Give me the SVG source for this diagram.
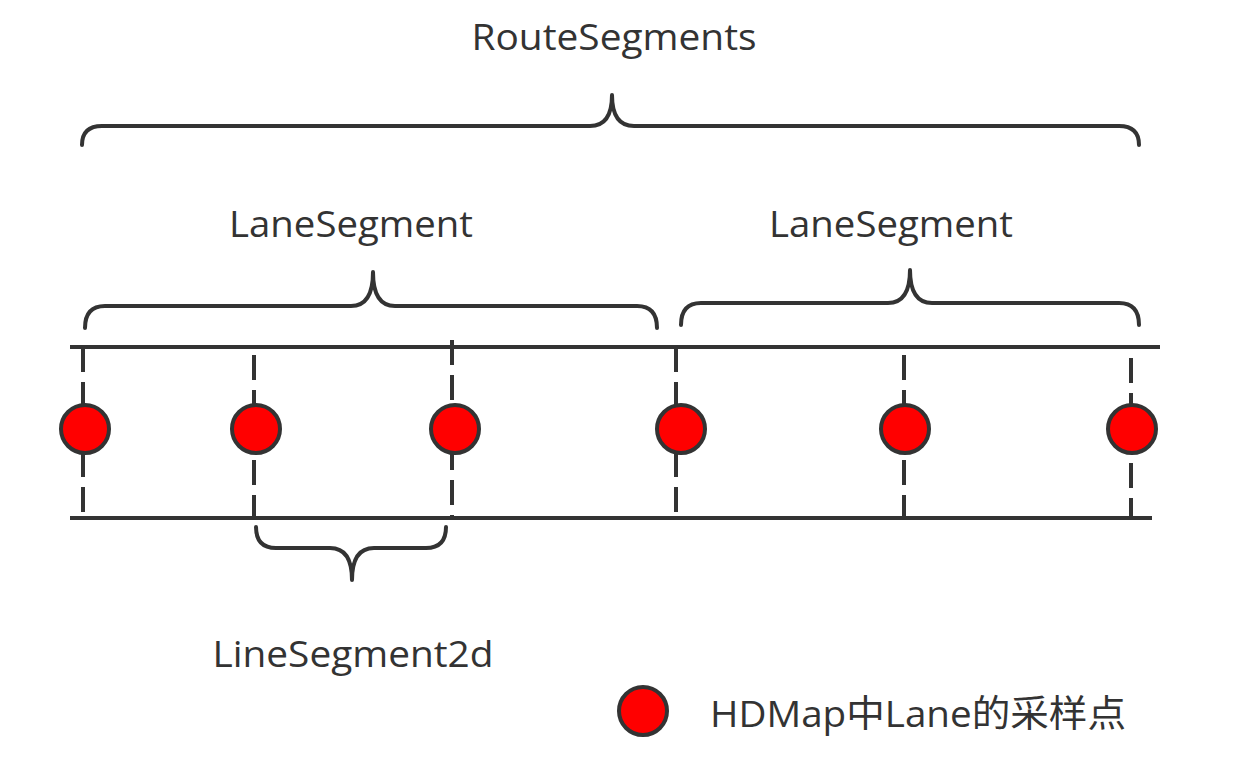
<svg xmlns="http://www.w3.org/2000/svg" width="1244" height="765" viewBox="0 0 1244 765">
  <style>
    .txt { font-family: "Open Sans", "Noto Sans CJK SC", sans-serif; font-size: 37px; fill: #333333; }
    .brace { fill: none; stroke: #333333; stroke-width: 4; stroke-linecap: round; stroke-linejoin: round; }
    .rail { stroke: #333333; stroke-width: 4; fill: none; }
    .dash { stroke: #333333; stroke-width: 4; stroke-dasharray: 25 10; fill: none; }
    .pt { fill: #ff0000; stroke: #333333; stroke-width: 4; }
  </style>
  <rect width="1244" height="765" fill="#ffffff"/>

  <g id="route-segments">
    <path class="brace" d="M82,145 Q82,126 102,126 L590,126 Q612,126 612,95 Q612,126 634,126 L1119,126 Q1139,126 1139,145"/>
    <text class="txt" x="614" y="50" text-anchor="middle" textLength="285" lengthAdjust="spacingAndGlyphs">RouteSegments</text>
  </g>

  <g id="lane-segment-1">
    <path class="brace" d="M85,328 Q85,306 105,306 L351,306 Q373,306 373,272 Q373,306 395,306 L637,306 Q657,306 657,328"/>
    <text class="txt" x="351" y="237" text-anchor="middle" textLength="244" lengthAdjust="spacingAndGlyphs">LaneSegment</text>
  </g>

  <g id="lane-segment-2">
    <path class="brace" d="M681,325 Q681,303 701,303 L888,303 Q910,303 910,270 Q910,303 932,303 L1119,303 Q1139,303 1139,325"/>
    <text class="txt" x="891" y="237" text-anchor="middle" textLength="244" lengthAdjust="spacingAndGlyphs">LaneSegment</text>
  </g>

  <g id="connectors">
    <line class="rail" x1="70" y1="347" x2="1160" y2="347"/>
    <line class="rail" x1="70" y1="518" x2="1152" y2="518"/>
    <line class="dash" x1="83" y1="347" x2="83" y2="512"/>
    <line class="dash" x1="254" y1="355" x2="254" y2="518"/>
    <line class="dash" x1="452" y1="340" x2="452" y2="518"/>
    <line class="dash" x1="676" y1="347" x2="676" y2="512"/>
    <line class="dash" x1="904" y1="355" x2="904" y2="518"/>
    <line class="dash" x1="1131" y1="358" x2="1131" y2="518"/>
  </g>

  <g id="sample-points">
    <circle class="pt" cx="85" cy="429" r="24"/>
    <circle class="pt" cx="256" cy="429" r="24"/>
    <circle class="pt" cx="455" cy="429" r="24"/>
    <circle class="pt" cx="681" cy="429" r="24"/>
    <circle class="pt" cx="905" cy="429" r="24"/>
    <circle class="pt" cx="1132" cy="429" r="24"/>
  </g>

  <g id="line-segment-2d">
    <path class="brace" d="M256,527 Q256,548 276,548 L330,548 Q352,548 352,580 Q352,548 374,548 L426,548 Q446,548 446,527"/>
    <text class="txt" x="353" y="667" text-anchor="middle" textLength="281" lengthAdjust="spacingAndGlyphs">LineSegment2d</text>
  </g>

  <g id="legend">
    <circle class="pt" cx="643" cy="711" r="24"/>
    <text class="txt" x="710" y="727" textLength="416" lengthAdjust="spacingAndGlyphs">HDMap中Lane的采样点</text>
  </g>
</svg>
